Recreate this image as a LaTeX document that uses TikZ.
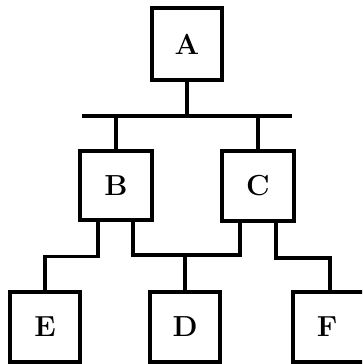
\documentclass[tikz,border=0pt]{standalone}
\usepackage{fontspec}
\setmainfont{Latin Modern Roman}
\newcommand{\boxlabel}[1]{\fontsize{29}{30}\selectfont\bfseries #1}
\begin{document}
\begin{tikzpicture}[x=1pt,y=-1pt,
  box/.style={draw,line width=3.2pt,rectangle,inner sep=0pt},
  wire/.style={line width=3.2pt}]
\useasboundingbox (0,0) rectangle (362,364);
\clip (0,0) rectangle (362,364);
% boxes of the tree
\node[box,minimum width=70pt,minimum height=72pt] (A) at (187,44) {\boxlabel{A}};
\node[box,minimum width=72pt,minimum height=69pt] (B) at (116,185.5) {\boxlabel{B}};
\node[box,minimum width=72pt,minimum height=70pt] (C) at (258,186) {\boxlabel{C}};
\node[box,minimum width=70pt,minimum height=70pt] (E) at (45,327) {\boxlabel{E}};
\node[box,minimum width=70pt,minimum height=70pt] (D) at (185,327) {\boxlabel{D}};
% the right box runs past the edge of the sheet
\node[box,minimum width=80pt,minimum height=70pt] (F) at (333,327) {\hspace*{-12pt}\boxlabel{F}};
% bus below A
\coordinate (busL) at (82,116);
\coordinate (busR) at (292,116);
\draw[wire] (busL) -- (busR);
\draw[wire] (A.south) -- (A.south |- busL);
\draw[wire] (B.north) -- (B.north |- busL);
\draw[wire] (C.north) -- (C.north |- busL);
% lower connections
\coordinate (jD) at (185,255);
\coordinate (jF) at (330,258);
\draw[wire] ([xshift=-18pt]B.south) -- ++(0,35) -| (E.north);
\draw[wire] ([xshift=17pt]B.south) |- (jD) -| ([xshift=-18pt]C.south);
\draw[wire] (jD) -- (D.north);
\draw[wire] ([xshift=18pt]C.south) |- (jF) -- (jF |- F.north);
\end{tikzpicture}
\end{document}
